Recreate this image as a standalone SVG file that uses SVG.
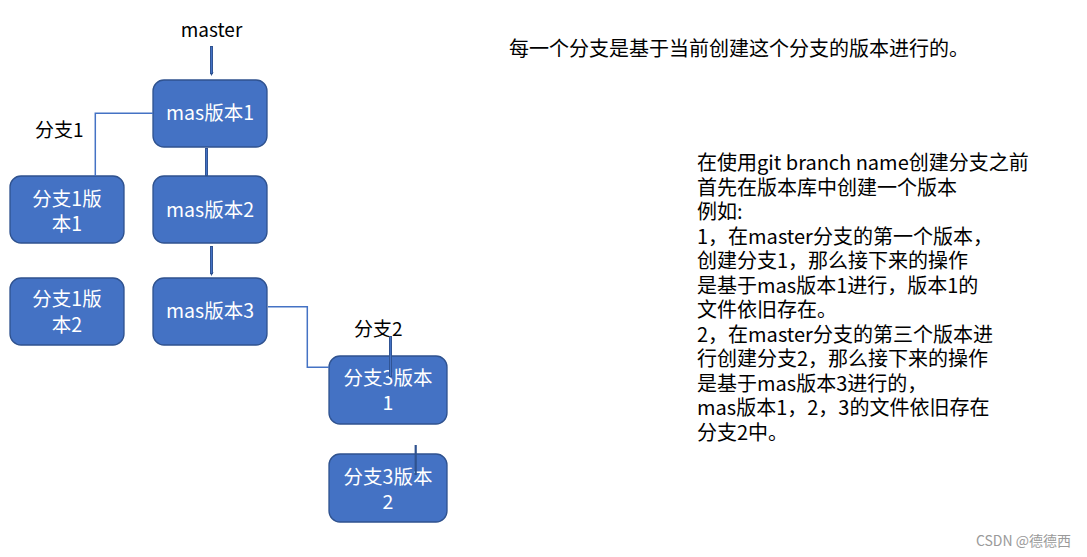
<svg xmlns="http://www.w3.org/2000/svg" width="1087" height="557" viewBox="0 0 1087 557">
<defs>
<style>
.box{fill:#4472C4;stroke:#2F528F;stroke-width:1.3}
.nt{fill:#fff;font-family:"Noto Sans CJK SC","Noto Sans",sans-serif;font-size:19.5px;text-anchor:middle}
.lb{fill:#000;font-family:"Noto Sans CJK SC","Noto Sans",sans-serif;font-size:19px}
.txt{fill:#000;font-family:"Noto Sans CJK SC","Noto Sans",sans-serif;font-size:20px}
.thick{stroke:#2F528F;stroke-width:3;fill:none}
.core{stroke:#4472C4;stroke-width:1.2;fill:none}
.thin{stroke:#4472C4;stroke-width:1.5;fill:none}
</style>
<marker id="ah" markerWidth="5" markerHeight="4" refX="2" refY="2" orient="auto" markerUnits="userSpaceOnUse">
<path d="M0,0 L4,2 L0,4 z" fill="#2F528F"/>
</marker>
</defs>
<rect width="1087" height="557" fill="#fff"/>

<g id="label-master"><text class="lb" x="211.5" y="37" text-anchor="middle">master</text></g>
<g id="label-branch1"><text class="lb" x="35" y="137">分支1</text></g>
<g id="label-branch2"><text class="lb" x="354" y="336">分支2</text></g>

<g id="node-mas1">
<rect class="box" x="153" y="80" width="114" height="67" rx="11"/>
<text class="nt" x="210" y="120">mas版本1</text>
</g>
<g id="node-mas2">
<rect class="box" x="153" y="176" width="114" height="67" rx="11"/>
<text class="nt" x="210" y="217">mas版本2</text>
</g>
<g id="node-mas3">
<rect class="box" x="153" y="278" width="114" height="67" rx="11"/>
<text class="nt" x="210" y="318">mas版本3</text>
</g>
<g id="node-b1v1">
<rect class="box" x="10" y="176" width="114" height="67" rx="11"/>
<text class="nt" x="67" y="206">分支1版</text>
<text class="nt" x="67" y="231">本1</text>
</g>
<g id="node-b1v2">
<rect class="box" x="10" y="278" width="114" height="67" rx="11"/>
<text class="nt" x="67" y="306">分支1版</text>
<text class="nt" x="67" y="332">本2</text>
</g>
<g id="node-b3v1">
<rect class="box" x="329" y="356" width="118" height="68" rx="11"/>
<text class="nt" x="388" y="385">分支3版本</text>
<text class="nt" x="388" y="410">1</text>
</g>
<g id="node-b3v2">
<rect class="box" x="329" y="454" width="118" height="68" rx="11"/>
<text class="nt" x="388" y="484">分支3版本</text>
<text class="nt" x="388" y="509">2</text>
</g>

<g id="connectors">
<line class="thick" x1="211.5" y1="46" x2="211.5" y2="74" marker-end="url(#ah)"/>
<line class="core" x1="211.5" y1="47" x2="211.5" y2="73"/>
<line class="thick" x1="206.5" y1="148" x2="206.5" y2="176"/>
<line class="core" x1="206.5" y1="149" x2="206.5" y2="175"/>
<line class="thick" x1="211.5" y1="246" x2="211.5" y2="274" marker-end="url(#ah)"/>
<line class="core" x1="211.5" y1="247" x2="211.5" y2="273"/>
<polyline class="thin" points="153,113.3 95.3,113.3 95.3,176"/>
<polyline class="thin" points="268,306.7 307.3,306.7 307.3,367.3 329,367.3"/>
<line class="thick" x1="390.5" y1="336" x2="390.5" y2="377"/>
<line class="core" x1="390.5" y1="337" x2="390.5" y2="376"/>
<line class="thick" x1="415.7" y1="445" x2="415.7" y2="475" style="stroke-width:2.2"/>
</g>

<g id="note-top">
<text class="txt" x="509" y="56">每一个分支是基于当前创建这个分支的版本进行的。</text>
</g>
<g id="note-right">
<text class="txt" x="697" y="170">在使用git branch name创建分支之前</text>
<text class="txt" x="697" y="194.5">首先在版本库中创建一个版本</text>
<text class="txt" x="697" y="219">例如:</text>
<text class="txt" x="697" y="243.5">1，在master分支的第一个版本，</text>
<text class="txt" x="697" y="268">创建分支1，那么接下来的操作</text>
<text class="txt" x="697" y="292.5">是基于mas版本1进行，版本1的</text>
<text class="txt" x="697" y="317">文件依旧存在。</text>
<text class="txt" x="697" y="341.5">2，在master分支的第三个版本进</text>
<text class="txt" x="697" y="366">行创建分支2，那么接下来的操作</text>
<text class="txt" x="697" y="390.5">是基于mas版本3进行的，</text>
<text class="txt" x="697" y="415">mas版本1，2，3的文件依旧存在</text>
<text class="txt" x="697" y="439.5">分支2中。</text>
</g>
<g id="watermark">
<text x="1071" y="546" text-anchor="end" fill="#9a9a9a" font-family="Noto Sans CJK SC, Noto Sans, sans-serif" font-size="14">CSDN @德德西</text>
</g>
</svg>
